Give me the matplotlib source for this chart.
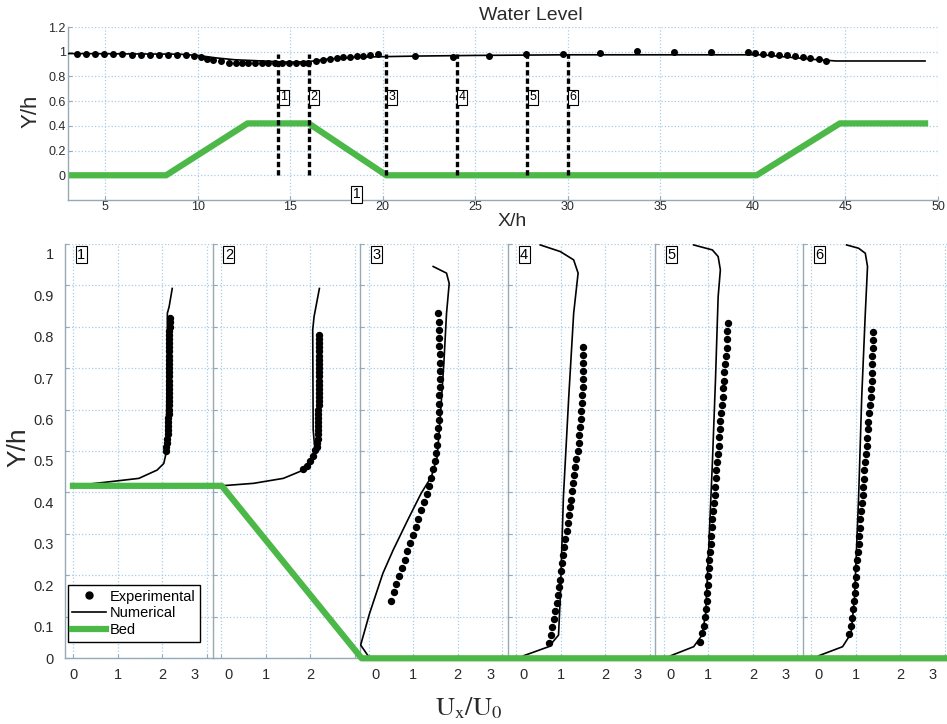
import matplotlib
matplotlib.use("Agg")
import matplotlib.pyplot as plt
import matplotlib.transforms as mtransforms
from matplotlib.lines import Line2D

plt.rcParams['font.family'] = ['Liberation Sans', 'DejaVu Sans']
plt.rcParams['mathtext.fontset'] = 'stix'

# ---- top panel: water level along the channel ----
bed_x = [3.0, 8.3, 12.7, 16.0, 20.2, 40.2, 44.7, 49.3]
bed_y = [0.0, 0.0, 0.42, 0.42, 0.0, 0.0, 0.42, 0.42]

wl_num_x = [3.0, 9.0, 10.0, 11.0, 12.0, 13.5, 15.0, 16.0, 17.0, 18.5, 20.0, 22.0, 25.0, 30.0, 40.5, 42.0, 43.5, 44.5, 49.3]
wl_num_y = [0.985, 0.98, 0.97, 0.95, 0.935, 0.925, 0.915, 0.92, 0.94, 0.955, 0.96, 0.965, 0.97, 0.975, 0.975, 0.955, 0.935, 0.925, 0.925]

wl_exp_x = [3.47, 3.97, 4.46, 4.96, 5.45, 5.94, 6.44, 6.93, 7.43, 7.92, 8.42, 8.91, 9.38, 9.78,
            10.19, 10.5, 10.86, 11.27, 11.70, 12.06, 12.39, 12.75, 13.1, 13.47, 13.83, 14.19,
            14.55, 14.95, 15.31, 15.67, 15.99, 16.39, 16.80, 17.16, 17.52, 17.88, 18.24, 18.6,
            18.96, 19.32, 19.74, 21.76, 23.8, 25.72, 27.74, 29.74, 31.72, 33.74, 35.72, 37.74,
            39.72, 40.14, 40.55, 40.98, 41.4, 41.85, 42.26, 42.69, 43.11, 43.56, 43.96]
wl_exp_y = [0.981, 0.981, 0.98, 0.98, 0.978, 0.978, 0.977, 0.977, 0.976, 0.976, 0.975, 0.975, 0.97, 0.965,
            0.96, 0.945, 0.935, 0.925, 0.91, 0.91, 0.91, 0.91, 0.91, 0.91, 0.91, 0.908,
            0.905, 0.905, 0.905, 0.91, 0.91, 0.925, 0.93, 0.943, 0.95, 0.96, 0.96, 0.965,
            0.968, 0.976, 0.981, 0.965, 0.96, 0.968, 0.978, 0.984, 0.992, 1.006, 0.998, 0.998,
            0.998, 0.992, 0.984, 0.98, 0.976, 0.97, 0.965, 0.96, 0.95, 0.94, 0.925]

section_x = [14.35, 16.0, 20.2, 24.0, 27.8, 30.0]
section_names = ['1', '2', '3', '4', '5', '6']

# ---- bottom panels: velocity profiles U_x/U_0 vs Y/h ----
p1_num_x = [0.0, 0.83, 1.47, 1.88, 2.03, 2.08, 2.11, 2.11, 2.15, 2.22]
p1_num_y = [0.416, 0.426, 0.434, 0.454, 0.470, 0.494, 0.712, 0.832, 0.848, 0.892]
p1_exp_x = [2.08, 2.09, 2.10, 2.11, 2.12, 2.12, 2.13, 2.13, 2.13, 2.14, 2.14, 2.14, 2.14, 2.14, 2.14, 2.14, 2.14,
            2.14, 2.14, 2.14, 2.14, 2.14, 2.14, 2.15, 2.15, 2.15, 2.15, 2.15, 2.15, 2.15, 2.16, 2.16, 2.16]
p1_exp_y = [0.50, 0.51, 0.52, 0.53, 0.54, 0.55, 0.56, 0.57, 0.58, 0.59, 0.60, 0.61, 0.62, 0.63, 0.64, 0.65, 0.66,
            0.67, 0.68, 0.69, 0.70, 0.71, 0.72, 0.73, 0.74, 0.75, 0.76, 0.77, 0.78, 0.79, 0.80, 0.81, 0.82]

p2_num_x = [0.0, 0.73, 1.40, 1.85, 2.04, 2.11, 2.07, 2.06, 2.09, 2.21]
p2_num_y = [0.416, 0.422, 0.434, 0.454, 0.474, 0.502, 0.551, 0.792, 0.824, 0.892]
p2_exp_x = [1.85, 1.94, 2.01, 2.07, 2.12, 2.15, 2.16, 2.17, 2.17, 2.17, 2.18, 2.18, 2.18, 2.18, 2.18, 2.19, 2.19,
            2.19, 2.19, 2.19, 2.19, 2.20, 2.20, 2.20, 2.20, 2.20, 2.21, 2.21, 2.21, 2.21, 2.21, 2.21, 2.21]
p2_exp_y = [0.456, 0.465, 0.477, 0.489, 0.502, 0.51, 0.52, 0.53, 0.54, 0.55, 0.56, 0.57, 0.58, 0.59, 0.60, 0.61, 0.62,
            0.63, 0.64, 0.65, 0.66, 0.67, 0.68, 0.69, 0.70, 0.71, 0.72, 0.73, 0.74, 0.75, 0.76, 0.77, 0.78]

p3_num_x = [0.0, -0.18, 0.02, 0.32, 0.55, 0.88, 1.18, 1.41, 1.54, 1.61, 1.69, 1.75, 1.81, 1.75, 1.45]
p3_num_y = [0.004, 0.032, 0.108, 0.205, 0.261, 0.334, 0.398, 0.438, 0.486, 0.583, 0.712, 0.832, 0.904, 0.929, 0.945]
p3_exp_x = [0.51, 0.57, 0.62, 0.68, 0.75, 0.81, 0.87, 0.94, 1.00, 1.06, 1.12, 1.18, 1.24, 1.30, 1.35, 1.39, 1.44, 1.48,
            1.51, 1.53, 1.54, 1.56, 1.57, 1.57, 1.58, 1.59, 1.60, 1.60, 1.60, 1.60, 1.60, 1.59, 1.58, 1.58, 1.57, 1.56]
p3_exp_y = [0.139, 0.159, 0.179, 0.198, 0.218, 0.238, 0.258, 0.278, 0.297, 0.317, 0.337, 0.357, 0.377, 0.396, 0.416,
            0.436, 0.456, 0.476, 0.495, 0.515, 0.535, 0.555, 0.575, 0.594, 0.614, 0.634, 0.654, 0.674, 0.693, 0.713,
            0.733, 0.753, 0.773, 0.792, 0.812, 0.832]

p4_num_x = [0.16, 0.73, 0.95, 0.99, 1.06, 1.18, 1.29, 1.39, 1.29, 0.99, 0.54]
p4_num_y = [0.006, 0.028, 0.056, 0.149, 0.39, 0.631, 0.832, 0.929, 0.961, 0.981, 0.997]
p4_exp_x = [0.74, 0.77, 0.81, 0.84, 0.87, 0.91, 0.93, 0.96, 0.98, 1.00, 1.02, 1.05, 1.07, 1.10, 1.13, 1.16, 1.18, 1.21,
            1.24, 1.26, 1.28, 1.30, 1.33, 1.35, 1.38, 1.40, 1.42, 1.43, 1.45, 1.46, 1.48, 1.48, 1.49, 1.50, 1.50, 1.51,
            1.51, 1.51]
p4_exp_y = [0.036, 0.055, 0.075, 0.094, 0.113, 0.133, 0.152, 0.171, 0.190, 0.210, 0.229, 0.248, 0.268, 0.287, 0.306,
            0.326, 0.345, 0.364, 0.383, 0.403, 0.422, 0.441, 0.461, 0.480, 0.499, 0.519, 0.538, 0.557, 0.577, 0.596,
            0.615, 0.634, 0.654, 0.673, 0.692, 0.712, 0.731, 0.750]

p5_num_x = [0.15, 0.67, 0.86, 0.94, 1.01, 1.09, 1.16, 1.22, 1.27, 1.22, 1.09, 0.67]
p5_num_y = [0.006, 0.028, 0.056, 0.108, 0.269, 0.470, 0.671, 0.872, 0.937, 0.969, 0.985, 0.997]
p5_exp_x = [0.81, 0.86, 0.90, 0.92, 0.94, 0.96, 0.97, 0.99, 1.00, 1.01, 1.02, 1.03, 1.05, 1.06, 1.08, 1.09, 1.11, 1.12,
            1.14, 1.15, 1.17, 1.18, 1.20, 1.21, 1.23, 1.24, 1.26, 1.27, 1.29, 1.30, 1.32, 1.33, 1.35, 1.36, 1.38, 1.39,
            1.41, 1.42, 1.43, 1.45]
p5_exp_y = [0.040, 0.060, 0.079, 0.099, 0.119, 0.139, 0.158, 0.178, 0.198, 0.217, 0.237, 0.257, 0.276, 0.296, 0.316,
            0.336, 0.355, 0.375, 0.395, 0.414, 0.434, 0.454, 0.473, 0.493, 0.513, 0.533, 0.552, 0.572, 0.592, 0.611,
            0.631, 0.651, 0.670, 0.690, 0.710, 0.730, 0.749, 0.769, 0.789, 0.808]

p6_num_x = [0.16, 0.70, 0.89, 0.97, 1.06, 1.13, 1.21, 1.26, 1.21, 1.06, 0.79]
p6_num_y = [0.006, 0.028, 0.060, 0.149, 0.39, 0.631, 0.832, 0.945, 0.977, 0.989, 0.997]
p6_exp_x = [0.85, 0.88, 0.91, 0.93, 0.95, 0.97, 0.98, 1.00, 1.01, 1.03, 1.04, 1.06, 1.07, 1.09, 1.10, 1.12, 1.13, 1.15,
            1.16, 1.18, 1.19, 1.21, 1.22, 1.24, 1.25, 1.27, 1.28, 1.30, 1.31, 1.33, 1.34, 1.35, 1.36, 1.36, 1.37, 1.38,
            1.39, 1.39]
p6_exp_y = [0.059, 0.079, 0.098, 0.118, 0.138, 0.157, 0.177, 0.197, 0.217, 0.236, 0.256, 0.276, 0.295, 0.315, 0.335,
            0.355, 0.374, 0.394, 0.414, 0.433, 0.453, 0.473, 0.492, 0.512, 0.532, 0.552, 0.571, 0.591, 0.611, 0.630,
            0.650, 0.670, 0.689, 0.709, 0.729, 0.748, 0.768, 0.788]

# bed drawn across the six profile panels (x in panel widths)
bed_prof_x = [0.054, 1.062, 2.01, 6.0]
bed_prof_y = [0.416, 0.416, 0.0, 0.0]

profiles = [
    (p1_num_x, p1_num_y, p1_exp_x, p1_exp_y),
    (p2_num_x, p2_num_y, p2_exp_x, p2_exp_y),
    (p3_num_x, p3_num_y, p3_exp_x, p3_exp_y),
    (p4_num_x, p4_num_y, p4_exp_x, p4_exp_y),
    (p5_num_x, p5_num_y, p5_exp_x, p5_exp_y),
    (p6_num_x, p6_num_y, p6_exp_x, p6_exp_y),
]

GREEN = '#4cb848'
SPINE = '#98a9b6'
GRID = '#a8cde6'
TXT = '#2a2a2a'

W, H = 947, 724
fig = plt.figure(figsize=(W / 100, H / 100), dpi=100)


def px_box(left, top, right, bottom):
    return [left / W, 1 - bottom / H, (right - left) / W, (bottom - top) / H]


def px_shift(dx, dy):
    return mtransforms.ScaledTranslation(dx / 100, dy / 100, fig.dpi_scale_trans)


def style_axes(ax):
    ax.set_axisbelow(True)
    ax.grid(True, color=GRID, linestyle=':', linewidth=0.9)
    for side in ['top', 'right']:
        ax.spines[side].set_visible(False)
    for side in ['left', 'bottom']:
        ax.spines[side].set_color(SPINE)
        ax.spines[side].set_linewidth(1.0)
    ax.tick_params(direction='in', length=3, color=SPINE, labelcolor=TXT)


# top panel
ax = fig.add_axes(px_box(68, 27, 938, 200))
style_axes(ax)
ax.plot(bed_x, bed_y, color=GREEN, lw=4.5, zorder=2)
ax.plot(wl_num_x, wl_num_y, color='k', lw=1.2, zorder=3)
ax.plot(wl_exp_x, wl_exp_y, 'o', color='k', ms=4, zorder=4)
for xs, name in zip(section_x, section_names):
    ax.plot([xs, xs], [0, 0.98], color='k', lw=2.4, linestyle=(0, (1.6, 0.9)), zorder=5)
    ax.annotate(name, xy=(xs, 0.63), xytext=(1.5, 0), textcoords='offset points',
                ha='left', va='center', fontsize=9, zorder=6,
                bbox=dict(boxstyle='square,pad=0.12', fc='white', ec='k', lw=0.8))
ax.text(18.6, -0.155, '1', ha='center', va='center', fontsize=10,
        bbox=dict(boxstyle='square,pad=0.12', fc='white', ec='k', lw=0.8))
ax.set_xlim(3, 50)
ax.set_ylim(-0.2, 1.2)
ax.set_xticks([5, 10, 15, 20, 25, 30, 35, 40, 45, 50])
ax.set_yticks([0, 0.2, 0.4, 0.6, 0.8, 1.0, 1.2], labels=['0', '0.2', '0.4', '0.6', '0.8', '1', '1.2'])
ax.tick_params(axis='x', labelsize=9, pad=1)
ax.tick_params(axis='y', labelsize=9, pad=1.5)

fig.text(531 / W, 1 - 15 / H, 'Water Level', ha='center', va='center', fontsize=14, color=TXT)
fig.text(512 / W, 1 - 221 / H, 'X/h', ha='center', va='center', fontsize=14, color=TXT)
fig.text(31 / W, 1 - 111 / H, 'Y/h', ha='center', va='center', rotation=90, fontsize=16, color=TXT)

# bottom panels
panel_w = 147.6
first_ax = None
for i, (nx, ny, ex, ey) in enumerate(profiles):
    left = 65 + i * panel_w
    pax = fig.add_axes(px_box(left, 243.7, left + panel_w, 658.3))
    style_axes(pax)
    pax.plot(nx, ny, color='k', lw=1.2, label='Numerical', zorder=3)
    pax.plot(ex, ey, 'o', color='k', ms=4.3, label='Experimental', zorder=4)
    pax.set_xlim(-0.19, 3.127)
    pax.set_ylim(0, 1)
    xl = ['0', '1', '2', '3'] if i != 1 else ['0', '1', '2', '']
    pax.set_xticks([0, 1, 2, 3], labels=xl)
    yt = [0, 0.1, 0.2, 0.3, 0.4, 0.5, 0.6, 0.7, 0.8, 0.9, 1.0]
    if i == 0:
        pax.set_yticks(yt, labels=['0', '0.1', '0.2', '0.3', '0.4', '0.5', '0.6', '0.7', '0.8', '0.9', '1'])
    else:
        pax.set_yticks(yt, labels=[''] * len(yt))
    pax.tick_params(axis='x', labelsize=10.5, pad=7)
    pax.tick_params(axis='y', labelsize=10.5, pad=8)
    # the original tick labels sit slightly off their ticks
    if i == 0:
        for lab in pax.get_yticklabels()[1:]:
            lab.set_transform(lab.get_transform() + px_shift(0, -10))
    xlabs = pax.get_xticklabels()
    if i > 0:
        xlabs[0].set_transform(xlabs[0].get_transform() + px_shift(7, 0))
    xlabs[3].set_transform(xlabs[3].get_transform() + px_shift(-12, 0))
    pax.text(0.11, 0.973, section_names[i], transform=pax.transAxes, ha='center', va='center',
             fontsize=10.5, bbox=dict(boxstyle='square,pad=0.1', fc='white', ec='k', lw=0.8))
    if i == 0:
        first_ax = pax

bax = fig.add_axes(px_box(65, 243.7, 65 + 6 * panel_w, 658.3))
bax.set_xlim(0, 6)
bax.set_ylim(0, 1)
bax.axis('off')
bax.plot(bed_prof_x, bed_prof_y, color=GREEN, lw=4.5, clip_on=False)

handles = [Line2D([], [], ls='none', marker='o', color='k', ms=5),
           Line2D([], [], color='k', lw=1.2),
           Line2D([], [], color=GREEN, lw=4.5)]
leg = first_ax.legend(handles, ['Experimental', 'Numerical', 'Bed'], loc='lower left',
                      bbox_to_anchor=(0.02, 0.04), borderaxespad=0, fontsize=10.5, fancybox=False,
                      edgecolor='k', framealpha=1, borderpad=0.3, labelspacing=0.2,
                      handlelength=2.3, handletextpad=0.3)
leg.get_frame().set_linewidth(1.0)

fig.text(18 / W, 1 - 447 / H, 'Y/h', ha='center', va='center', rotation=90, fontsize=19, color=TXT)
fig.text(469 / W, 1 - 708 / H, r'$\mathrm{U_x/U_0}$', ha='center', va='center', fontsize=19, color=TXT)

fig.savefig('out.png', dpi=100)
